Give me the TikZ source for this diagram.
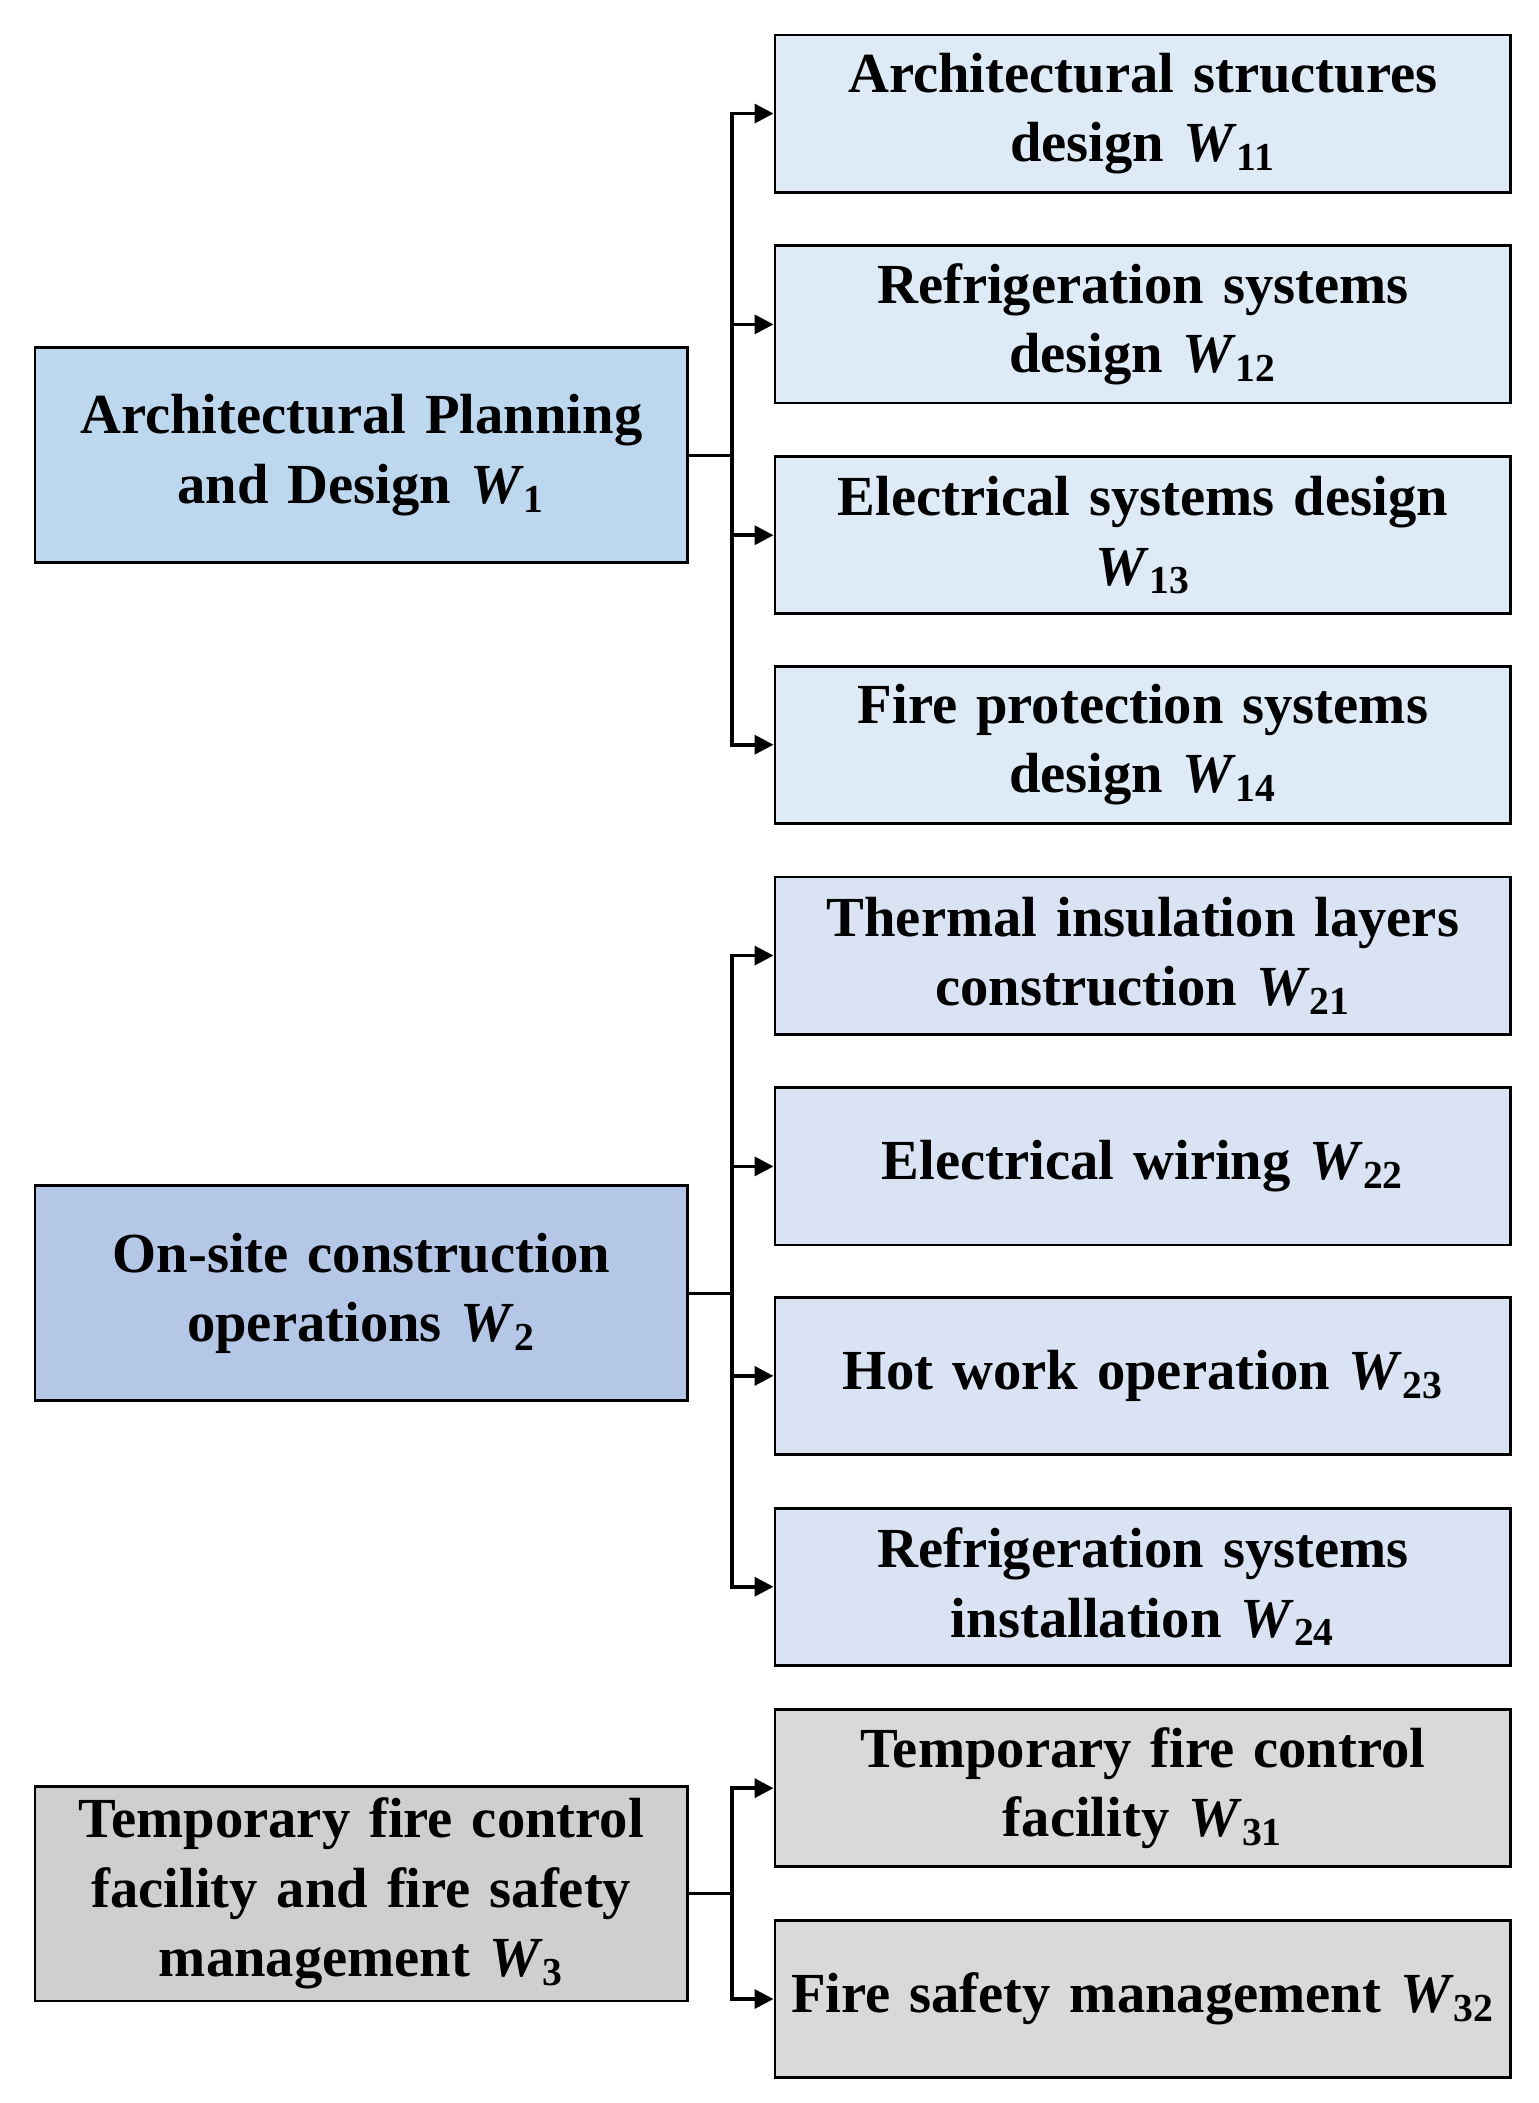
\documentclass[tikz,border=0pt]{standalone}
\usepackage{fontspec}
\setmainfont{Liberation Serif}
\usetikzlibrary{arrows.meta}
\definecolor{la}{HTML}{BDD7EE}\definecolor{ra}{HTML}{DEEBF7}
\definecolor{lb}{HTML}{B4C7E7}\definecolor{rb}{HTML}{DAE3F3}
\definecolor{lc}{HTML}{D0CECE}\definecolor{rc}{HTML}{D9D9D9}
\begin{document}
\begin{tikzpicture}[x=0.02cm,y=-0.02cm,
 box/.style={draw=black,line width=1.2pt,anchor=north west,align=center,inner sep=0pt,
   font=\fontsize{24}{29.5}\selectfont\bfseries},
 lbox/.style={box,minimum width=486*0.02cm,minimum height=160*0.02cm,text width=470*0.02cm},
 rbox/.style={box,minimum width=548*0.02cm,minimum height=117*0.02cm,text width=530*0.02cm},
 con/.style={line width=1.5pt,-{Triangle[length=8pt,width=8pt]}}]
\useasboundingbox (0,0) rectangle (1146,1566);
\node[lbox,fill=la] (L1) at (25,258) {Architectural Planning\\and Design \textit{W}\textsubscript{1}};
\node[lbox,fill=lb] (L2) at (25,882) {On-site construction\\operations \textit{W}\textsubscript{2}};
\node[lbox,fill=lc] (L3) at (25,1329) {Temporary fire control\\facility and fire safety\\management \textit{W}\textsubscript{3}};
\node[rbox,fill=ra] (R11) at (576,25) {Architectural structures\\design \textit{W}\textsubscript{11}};
\node[rbox,fill=ra] (R12) at (576,182) {Refrigeration systems\\design \textit{W}\textsubscript{12}};
\node[rbox,fill=ra] (R13) at (576,339) {Electrical systems design\\\textit{W}\textsubscript{13}};
\node[rbox,fill=ra] (R14) at (576,495) {Fire protection systems\\design \textit{W}\textsubscript{14}};
\node[rbox,fill=rb] (R21) at (576,652) {Thermal insulation layers\\construction \textit{W}\textsubscript{21}};
\node[rbox,fill=rb] (R22) at (576,809) {Electrical wiring \textit{W}\textsubscript{22}};
\node[rbox,fill=rb] (R23) at (576,965) {Hot work operation \textit{W}\textsubscript{23}};
\node[rbox,fill=rb] (R24) at (576,1122) {Refrigeration systems\\installation \textit{W}\textsubscript{24}};
\node[rbox,fill=rc] (R31) at (576,1272) {Temporary fire control\\facility \textit{W}\textsubscript{31}};
\node[rbox,fill=rc] (R32) at (576,1429) {Fire safety management \textit{W}\textsubscript{32}};
\foreach \l/\rs in {L1/{R11,R12,R13,R14},L2/{R21,R22,R23,R24},L3/{R31,R32}}{
  \draw[line width=1.5pt] (\l.east) -- ++(32,0);
  \foreach \r in \rs { \draw[con] (\l.east) ++(32,0) |- (\r.west); }
}
\end{tikzpicture}
\end{document}
